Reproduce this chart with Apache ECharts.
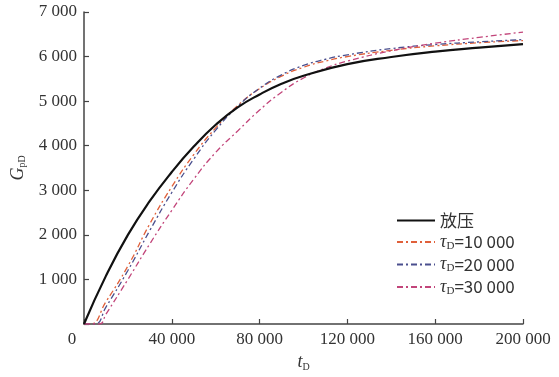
<!DOCTYPE html>
<html>
<head>
<meta charset="utf-8">
<script src="https://cdn.jsdelivr.net/npm/echarts@6/dist/echarts.min.js"></script>
<style>
  html, body { margin: 0; padding: 0; background: #fff; }
  #chart { width: 559px; height: 377px; }
</style>
</head>
<body>
<div id="chart"></div>
<script>
  // t_D 与 G_pD 曲线数据
  var tFang = [0, 10000, 20000, 30000, 40000, 50000, 60000, 70000, 80000, 90000, 100000, 120000, 140000, 160000, 180000, 200000];
  var gFang = [0, 1080, 2000, 2760, 3410, 3980, 4470, 4860, 5150, 5390, 5570, 5830, 5990, 6110, 6200, 6280];

  var t10 = [0, 3000, 10000, 20000, 30000, 40000, 50000, 60000, 70000, 80000, 90000, 100000, 110000, 120000, 140000, 160000, 180000, 200000];
  var g10 = [0, 0, 500, 1300, 2250, 3080, 3800, 4400, 4900, 5280, 5560, 5760, 5900, 6000, 6140, 6240, 6310, 6360];

  var t20 = [0, 5000, 10000, 20000, 30000, 40000, 50000, 60000, 70000, 80000, 90000, 100000, 110000, 120000, 140000, 160000, 180000, 200000];
  var g20 = [0, 0, 380, 1200, 2100, 2950, 3700, 4350, 4880, 5290, 5590, 5800, 5940, 6040, 6180, 6270, 6330, 6380];

  var t30 = [0, 7000, 10000, 20000, 30000, 40000, 50000, 60000, 70000, 80000, 90000, 100000, 110000, 120000, 140000, 160000, 180000, 200000];
  var g30 = [0, 0, 220, 1000, 1800, 2550, 3250, 3850, 4330, 4800, 5200, 5520, 5740, 5900, 6130, 6300, 6430, 6550];

  var names = ['放压', 'τ10', 'τ20', 'τ30'];
  var legendText = {
    '放压': '放压',
    'τ10': '{it|τ}{sub|D}=10 000',
    'τ20': '{it|τ}{sub|D}=20 000',
    'τ30': '{it|τ}{sub|D}=30 000'
  };

  function pairs(xs, ys) {
    return xs.map(function (x, i) { return [x, ys[i]]; });
  }

  function fmt(v) {
    var s = String(v);
    return s.replace(/\B(?=(\d{3})+(?!\d))/g, ' ');
  }

  var serif = '"Liberation Serif", "DejaVu Serif", serif';
  var myChart = echarts.init(document.getElementById('chart'));

  var option = {
    backgroundColor: '#fff',
    animation: false,
    textStyle: { fontFamily: serif },
    grid: { left: 84, right: 36, top: 12, bottom: 50 },
    legend: {
      orient: 'vertical',
      left: 391,
      top: 207,
      itemWidth: 38,
      itemHeight: 12,
      itemGap: 4,
      selectedMode: false,
      data: names,
      itemStyle: { opacity: 0, borderWidth: 0 },
      formatter: function (n) { return legendText[n]; },
      textStyle: {
        fontFamily: '"Noto Sans CJK SC", ' + serif,
        fontSize: 17,
        color: '#333',
        rich: {
          it: { fontFamily: serif, fontStyle: 'italic', fontSize: 18, color: '#333' },
          sub: { fontFamily: serif, fontSize: 11, color: '#333', verticalAlign: 'bottom', padding: [8, 0, 0, 0] }
        }
      }
    },
    xAxis: {
      type: 'value',
      min: 0,
      max: 200000,
      interval: 40000,
      name: '{it|t}{sub|D}',
      nameLocation: 'middle',
      nameGap: 28,
      nameTextStyle: {
        rich: {
          it: { fontFamily: serif, fontStyle: 'italic', fontSize: 18, color: '#333' },
          sub: { fontFamily: serif, fontSize: 10, color: '#333', padding: [10, 0, 0, 0] }
        }
      },
      splitLine: { show: false },
      axisLine: { lineStyle: { color: '#444', width: 1.5 } },
      axisTick: { inside: true, length: 5, lineStyle: { color: '#444', width: 1.2 } },
      axisLabel: {
        color: '#333',
        fontFamily: serif,
        fontSize: 17,
        margin: 7,
        formatter: function (v) { return v === 0 ? '{z|0}' : fmt(v); },
        rich: { z: { fontFamily: serif, fontSize: 17, color: '#333', padding: [0, 24, 0, 0] } }
      }
    },
    yAxis: {
      type: 'value',
      min: 0,
      max: 7000,
      interval: 1000,
      name: '{it|G}{sub|pD}',
      nameLocation: 'middle',
      nameGap: 50,
      nameRotate: 90,
      nameTextStyle: {
        rich: {
          it: { fontFamily: serif, fontStyle: 'italic', fontSize: 18, color: '#333' },
          sub: { fontFamily: serif, fontSize: 10, color: '#333', padding: [10, 0, 0, 0] }
        }
      },
      splitLine: { show: false },
      axisLine: { show: true, lineStyle: { color: '#444', width: 1.5 } },
      axisTick: { show: true, inside: true, length: 5, lineStyle: { color: '#444', width: 1.2 } },
      axisLabel: {
        color: '#333',
        fontFamily: serif,
        fontSize: 17,
        margin: 7,
        formatter: function (v) { return v === 0 ? '' : fmt(v); }
      }
    },
    series: [
      {
        name: '放压', type: 'line', smooth: 0.5, symbol: 'none',
        lineStyle: { color: '#111', width: 2.2, type: 'solid' },
        itemStyle: { color: '#111' },
        data: pairs(tFang, gFang), z: 5
      },
      {
        name: 'τ10', type: 'line', smooth: 0.5, symbol: 'none',
        lineStyle: { color: '#e0603a', width: 1.3, type: [6, 3, 2, 3] },
        itemStyle: { color: '#e0603a' },
        data: pairs(t10, g10)
      },
      {
        name: 'τ20', type: 'line', smooth: 0.5, symbol: 'none',
        lineStyle: { color: '#4a4f8e', width: 1.3, type: [6, 3, 2, 3] },
        itemStyle: { color: '#4a4f8e' },
        data: pairs(t20, g20)
      },
      {
        name: 'τ30', type: 'line', smooth: 0.5, symbol: 'none',
        lineStyle: { color: '#c2457a', width: 1.3, type: [6, 3, 2, 3] },
        itemStyle: { color: '#c2457a' },
        data: pairs(t30, g30)
      }
    ]
  };

  myChart.setOption(option);
</script>
</body>
</html>
